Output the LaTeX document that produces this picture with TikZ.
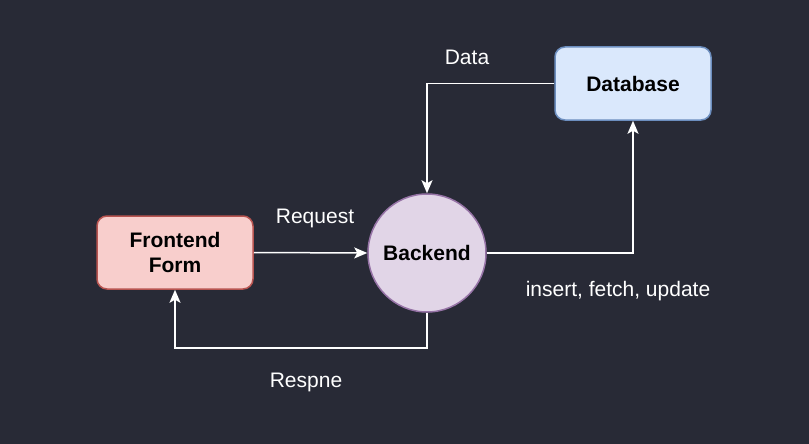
\documentclass[tikz,border=0pt]{standalone}
\usepackage{fontspec}
\setmainfont{Liberation Sans}
\usetikzlibrary{arrows.meta}

\definecolor{fondo}{HTML}{282A36}
\definecolor{rojoclaro}{HTML}{F8CECC}
\definecolor{rojoborde}{HTML}{B85450}
\definecolor{moradoclaro}{HTML}{E1D5E7}
\definecolor{moradoborde}{HTML}{9673A6}
\definecolor{azulclaro}{HTML}{DAE8FC}
\definecolor{azulborde}{HTML}{6C8EBF}

\tikzset{
	caja/.style={rectangle, rounded corners=10pt, line width=1.5pt,
		minimum width=156pt, minimum height=73pt, align=center,
		font=\fontsize{21}{25}\selectfont\bfseries},
	flecha/.style={draw=white, line width=1.5pt,
		-{Stealth[length=13pt,width=11pt,inset=3pt]}},
	etiqueta/.style={text=white, font=\fontsize{21}{25}\selectfont}
}

\begin{document}
\begin{tikzpicture}[x=1pt, y=-1pt]
	% Fondo y margenes
	\useasboundingbox[fill=fondo] (0,0) rectangle (809,444);

	% Nodos
	\node[caja, fill=rojoclaro, draw=rojoborde] (front) at (175,252.5) {Frontend\\Form};
	\node[circle, fill=moradoclaro, draw=moradoborde, line width=1.5pt,
		minimum size=118pt, font=\fontsize{21}{25}\selectfont\bfseries] (back) at (427,253) {Backend};
	\node[caja, fill=azulclaro, draw=azulborde] (db) at (633,83.5) {Database};

	% Conexiones
	\draw[flecha] (front.east) -- (back.west);
	\draw[flecha] (back.south) -- ++(0,35) -| (front.south);
	\draw[flecha] (back.east) -| (db.south);
	\draw[flecha] (db.west) -| (back.north);

	% Etiquetas de las conexiones
	\node[etiqueta] (req) at (315,218) {Request};
	\node[etiqueta] (resp) at (306,382) {Respne};
	\node[etiqueta] (ops) at (618,291) {insert, fetch, update};
	\node[etiqueta] (data) at (467,57) {Data};
\end{tikzpicture}
\end{document}
